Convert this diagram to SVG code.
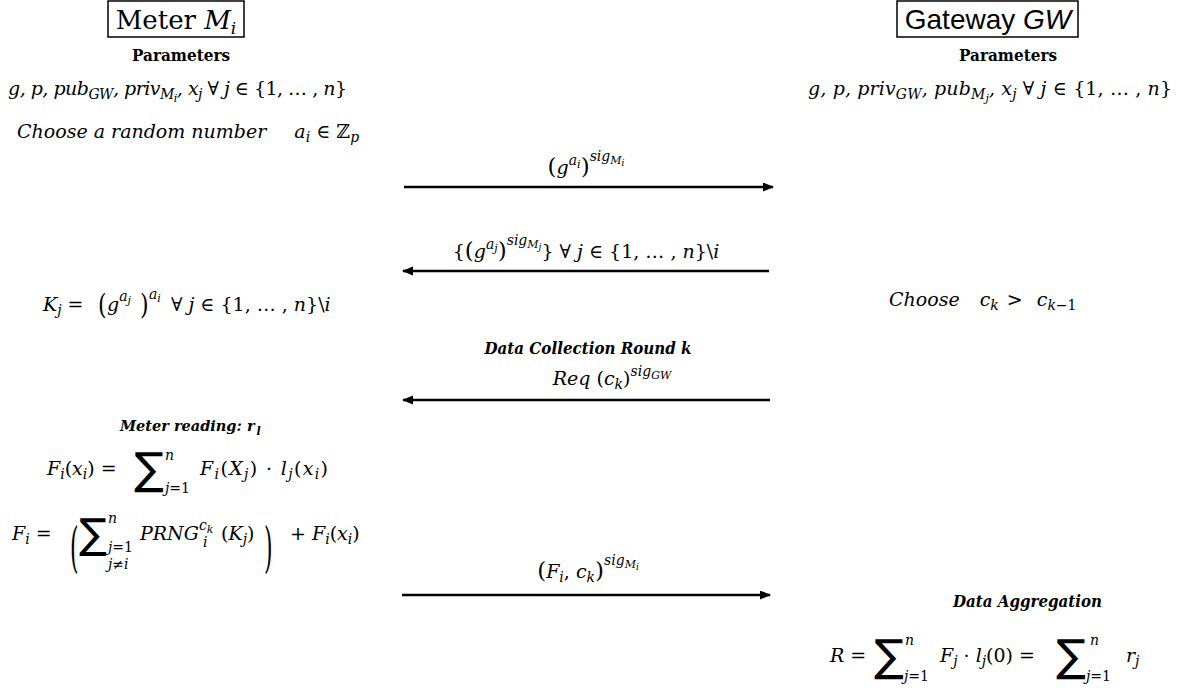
<svg xmlns="http://www.w3.org/2000/svg" width="1181" height="688" viewBox="0 0 1181 688">
<style>
text { fill: #000; }
.m { font-family: "DejaVu Serif", "Liberation Serif", serif; font-style: italic; font-size: 19px; }
.r { font-style: normal; }
.p { font-style: normal; font-size: 23px; }
.s { font-size: 14px; }
.ss { font-size: 11px; }
.sss { font-size: 9px; }
.sum { font-family: "DejaVu Sans", sans-serif; font-style: normal; font-size: 44px; }
.bp { font-family: "DejaVu Serif", serif; font-style: normal; font-size: 22px; }
.hd { font-family: "DejaVu Serif", serif; font-weight: bold; font-size: 16px; }
.lbl { font-family: "DejaVu Serif", serif; font-weight: bold; font-style: italic; font-size: 16px; }
.box { fill: #fff; stroke: #000; stroke-width: 1.5; }
.arrow { stroke: #000; stroke-width: 2.5; fill: none; marker-end: url(#ah); }
</style>
<defs>
<marker id="ah" markerUnits="userSpaceOnUse" markerWidth="12" markerHeight="10" refX="10" refY="4.5" orient="auto">
<path d="M0,0 L11,4.5 L0,9 z" fill="#000"/>
</marker>
</defs>
<rect width="1181" height="688" fill="#fff"/>

<g id="meter">
<rect class="box" x="108" y="1" width="136" height="36"/>
<text x="176" y="29" text-anchor="middle" font-family="DejaVu Serif, serif" font-size="26">Meter <tspan font-style="italic">M</tspan><tspan font-style="italic" font-size="17" dy="5">i</tspan></text>
<text class="hd" x="181" y="61" text-anchor="middle" textLength="98" lengthAdjust="spacingAndGlyphs">Parameters</text>
<text class="m" x="8" y="95" textLength="339" lengthAdjust="spacing">g, p, pub<tspan class="s" dy="4">GW</tspan><tspan dy="-4">, priv</tspan><tspan class="s" dy="4">M</tspan><tspan class="ss" dy="3">i</tspan><tspan dy="-7">, x</tspan><tspan class="s" dy="4">j</tspan><tspan class="r" dy="-4"> ∀ </tspan>j<tspan class="r"> ∈ {1, … , </tspan>n<tspan class="r">}</tspan></text>
<text class="m" x="17" y="138">Choose a random number<tspan dx="28">a</tspan><tspan class="s" dy="4">i</tspan><tspan class="r" dy="-4"> ∈ ℤ</tspan><tspan class="s" dy="4">p</tspan></text>
<text class="m" x="43" y="311">K<tspan class="s" dy="4">j</tspan><tspan class="r" dy="-4"> =  </tspan></text>
<text class="bp" transform="translate(98,314) scale(1,1.3)">(</text>
<text class="m" x="107" y="311">g<tspan class="s" dy="-10">a</tspan><tspan class="ss" dy="3">j</tspan></text>
<text class="bp" transform="translate(140,314) scale(1,1.3)">)</text>
<text class="m" x="149" y="311"><tspan class="s" dy="-12">a</tspan><tspan class="ss" dy="3">i</tspan><tspan class="r" dy="9" dx="10">∀ </tspan>j<tspan class="r">  ∈ {1, … , </tspan>n<tspan class="r">}\</tspan>i</text>
<text class="lbl" x="120" y="431" style="font-size:14.5px">Meter reading: r<tspan dx="2" dy="4" style="font-size:11px">l</tspan></text>
<text class="m" x="47" y="475">F<tspan class="s" dy="4">i</tspan><tspan class="r" dy="-4">(</tspan>x<tspan class="s" dy="4">i</tspan><tspan class="r" dy="-4">) =</tspan></text>
<text class="sum" x="134" y="484">∑</text>
<text class="m s" x="165" y="460">n</text>
<text class="m s" x="165" y="493">j<tspan class="r">=1</tspan></text>
<text class="m" x="200" y="475" textLength="128" lengthAdjust="spacing">F<tspan class="s" dy="4">i</tspan><tspan class="r" dy="-4">(</tspan>X<tspan class="s" dy="4">j</tspan><tspan class="r" dy="-4">) · </tspan>l<tspan class="s" dy="4">j</tspan><tspan class="r" dy="-4">(</tspan>x<tspan class="s" dy="4">i</tspan><tspan class="r" dy="-4">)</tspan></text>
<text class="m" x="12" y="540">F<tspan class="s" dy="4">i</tspan><tspan class="r" dy="-4"> =</tspan></text>
<text class="bp" transform="translate(70,566) scale(1,2.5)">(</text>
<text class="sum" x="79" y="548" style="font-size:41px">∑</text>
<text class="m s" x="108" y="523">n</text>
<text class="m s" x="108" y="552">j<tspan class="r">=1</tspan></text>
<text class="m s" x="108" y="569">j<tspan class="r">≠</tspan>i</text>
<text class="m" x="140" y="540">PRNG<tspan class="s" dy="-10">c</tspan><tspan class="ss" dy="3">k</tspan><tspan class="s" x="203" dy="14">i</tspan><tspan class="r" x="221" dy="-7">(</tspan>K<tspan class="s" dy="4">j</tspan><tspan class="r" dy="-4">)</tspan></text>
<text class="bp" transform="translate(264,566) scale(1,2.5)">)</text>
<text class="m" x="290" y="540"><tspan class="r">+ </tspan>F<tspan class="s" dy="4">i</tspan><tspan class="r" dy="-4">(</tspan>x<tspan class="s" dy="4">i</tspan><tspan class="r" dy="-4">)</tspan></text>
</g>

<g id="gateway">
<rect class="box" x="897" y="1" width="181" height="36"/>
<text x="988" y="29" text-anchor="middle" font-family="Liberation Sans, Arial, sans-serif" font-size="28">Gateway <tspan font-style="italic">GW</tspan></text>
<text class="hd" x="1008" y="61" text-anchor="middle" textLength="98" lengthAdjust="spacingAndGlyphs">Parameters</text>
<text class="m" x="808" y="95" textLength="364" lengthAdjust="spacing">g, p, priv<tspan class="s" dy="4">GW</tspan><tspan dy="-4">, pub</tspan><tspan class="s" dy="4">M</tspan><tspan class="ss" dy="3">j</tspan><tspan dy="-7">, x</tspan><tspan class="s" dy="4">j</tspan><tspan class="r" dy="-4"> ∀ </tspan>j<tspan class="r"> ∈ {1, … , </tspan>n<tspan class="r">}</tspan></text>
<text class="m" x="889" y="306">Choose<tspan dx="20">c</tspan><tspan class="s" dy="4">k</tspan><tspan class="r" dy="-4" dx="8">&gt;</tspan><tspan dx="14">c</tspan><tspan class="s" dy="4">k<tspan class="r">−1</tspan></tspan></text>
<text class="lbl" x="953" y="607" textLength="149" lengthAdjust="spacingAndGlyphs">Data Aggregation</text>
<text class="m" x="830" y="662">R<tspan class="r"> =</tspan></text>
<text class="sum" x="874" y="671">∑</text>
<text class="m s" x="905" y="645">n</text>
<text class="m s" x="904" y="681">j<tspan class="r">=1</tspan></text>
<text class="m" x="940" y="662">F<tspan class="s" dy="4">j</tspan><tspan class="r" dy="-4"> · </tspan>l<tspan class="s" dy="4">j</tspan><tspan class="r" dy="-4">(0) = </tspan></text>
<text class="sum" x="1056" y="671">∑</text>
<text class="m s" x="1090" y="645">n</text>
<text class="m s" x="1086" y="681">j<tspan class="r">=1</tspan></text>
<text class="m" x="1126" y="662">r<tspan class="s" dy="4">j</tspan></text>
</g>

<g id="connectors">
<line class="arrow" x1="404" y1="187" x2="773" y2="187"/>
<text class="m" x="586" y="174" text-anchor="middle"><tspan class="p">(</tspan>g<tspan class="s" dy="-9">a</tspan><tspan class="ss" dy="3">i</tspan><tspan class="p" dy="6">)</tspan><tspan class="s" dy="-13">sig</tspan><tspan class="ss" dy="3">M</tspan><tspan class="sss" dy="2">i</tspan></text>
<line class="arrow" x1="769" y1="271" x2="403" y2="271"/>
<text class="m" x="586" y="258" text-anchor="middle"><tspan class="r">{</tspan><tspan class="p">(</tspan>g<tspan class="s" dy="-9">a</tspan><tspan class="ss" dy="3">j</tspan><tspan class="p" dy="6">)</tspan><tspan class="s" dy="-13">sig</tspan><tspan class="ss" dy="3">M</tspan><tspan class="sss" dy="2">j</tspan><tspan class="r" dy="8">} ∀ </tspan>j<tspan class="r"> ∈ {1, … , </tspan>n<tspan class="r">}\</tspan>i</text>
<text class="lbl" x="588" y="354" text-anchor="middle" textLength="207" lengthAdjust="spacingAndGlyphs">Data Collection Round k</text>
<text class="m" x="612" y="385" text-anchor="middle">Req <tspan class="r">(</tspan>c<tspan class="s" dy="4">k</tspan><tspan class="r" dy="-4">)</tspan><tspan class="s" dy="-9">sig</tspan><tspan class="ss" dy="3">GW</tspan></text>
<line class="arrow" x1="770" y1="400" x2="403" y2="400"/>
<text class="m" x="588" y="578" text-anchor="middle"><tspan class="p">(</tspan>F<tspan class="s" dy="4">i</tspan><tspan class="r" dy="-4">, </tspan>c<tspan class="s" dy="4">k</tspan><tspan class="p" dy="-4">)</tspan><tspan class="s" dy="-13">sig</tspan><tspan class="ss" dy="3">M</tspan><tspan class="sss" dy="2">i</tspan></text>
<line class="arrow" x1="402" y1="595" x2="770" y2="595"/>
</g>
</svg>
